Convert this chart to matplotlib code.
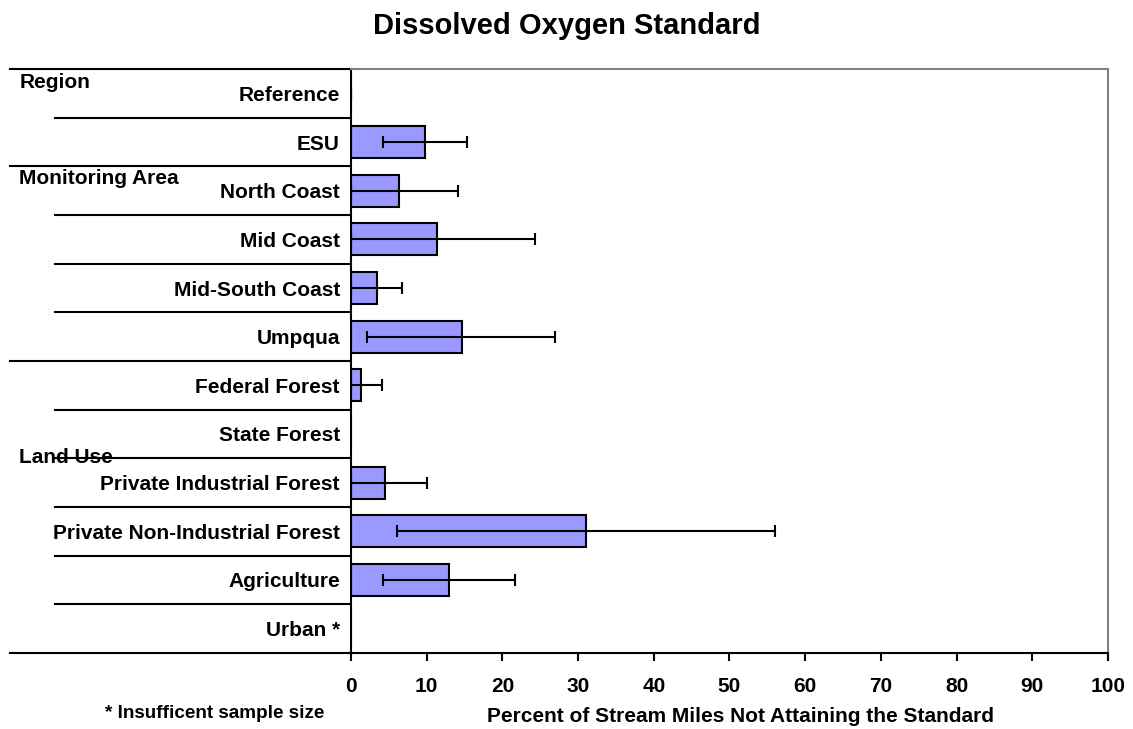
import numpy as np
import matplotlib
matplotlib.use("Agg")
import matplotlib.pyplot as plt

plt.rcParams['font.family'] = ['Liberation Sans', 'DejaVu Sans']
plt.rcParams['font.weight'] = 'bold'

# data
categories = ["Reference", "ESU", "North Coast", "Mid Coast", "Mid-South Coast", "Umpqua",
              "Federal Forest", "State Forest", "Private Industrial Forest",
              "Private Non-Industrial Forest", "Agriculture", "Urban *"]
pct = [0, 9.8, 6.3, 11.4, 3.4, 14.6, 1.3, 0, 4.5, 31.0, 12.9, 0]
ci_low = [0, 4.2, 0, 0, 0, 2.1, 0, 0, 0, 6.1, 4.2, 0]
ci_high = [0, 15.3, 14.2, 24.3, 6.8, 27.0, 4.1, 0, 10.0, 56.0, 21.7, 0]
has_err = [True, True, True, True, True, True, True, False, True, True, True, False]
groups = ["Region", "Monitoring Area", "Land Use"]
group_y = [-0.23, 1.74, 7.49]
full_seps = [-0.5, 1.5, 5.5, 11.5]
short_seps = [0.5, 2.5, 3.5, 4.5, 6.5, 7.5, 8.5, 9.5, 10.5]
xticks = np.arange(0, 101, 10)

fig = plt.figure(figsize=(11.33, 7.29), dpi=100)
ax = fig.add_axes([0.3098, 0.1043, 0.6681, 0.801])

y = np.arange(len(categories))
pct = np.array(pct)
ax.barh(y, pct, height=0.66, color='#9999FF', edgecolor='black', linewidth=1.5, zorder=2)

idx = np.array(has_err)
lo = pct - np.array(ci_low)
hi = np.array(ci_high) - pct
ax.errorbar(pct[idx], y[idx], xerr=[lo[idx], hi[idx]], fmt='none', ecolor='black',
            elinewidth=1.5, capsize=4, capthick=1.5, zorder=3)

ax.set_xlim(0, 100)
ax.set_ylim(11.5, -0.5)
ax.set_xticks(xticks)
ax.set_xticklabels([str(t) for t in xticks], fontsize=15, fontweight='bold')
ax.tick_params(axis='x', direction='out', length=6, width=1.5, pad=11)
ax.set_yticks(y)
ax.set_yticklabels(categories, fontsize=15, fontweight='bold')
ax.tick_params(axis='y', length=0, pad=8)

for s in ['top', 'right']:
    ax.spines[s].set_color('#808080')
    ax.spines[s].set_linewidth(1.5)
for s in ['left', 'bottom']:
    ax.spines[s].set_color('black')
    ax.spines[s].set_linewidth(1.5)

tr = ax.get_yaxis_transform()
for ys in full_seps:
    ax.plot([-0.4505, 0], [ys, ys], color='black', lw=1.5, transform=tr, clip_on=False)
for ys in short_seps:
    ax.plot([-0.391, 0], [ys, ys], color='black', lw=1.5, transform=tr, clip_on=False)

for g, gy in zip(groups, group_y):
    ax.text(-0.438, gy, g, transform=tr, ha='left', va='center', fontsize=15, fontweight='bold')

fig.text(0.5, 1 - 26 / 729, "Dissolved Oxygen Standard", ha='center', va='center',
         fontsize=21, fontweight='bold')
fig.text(0.654, 1 - 717 / 729, "Percent of Stream Miles Not Attaining the Standard",
         ha='center', va='center', fontsize=15, fontweight='bold')
fig.text(0.093, 1 - 713 / 729, "* Insufficent sample size", ha='left', va='center',
         fontsize=13.6, fontweight='bold')

fig.savefig("out.png", dpi=100)
